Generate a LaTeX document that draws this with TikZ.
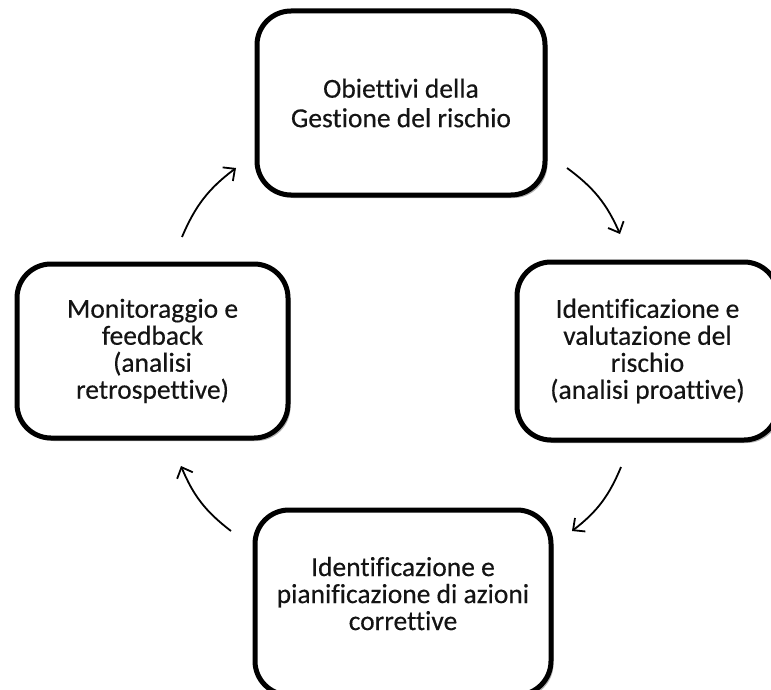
\documentclass[tikz,border=0pt]{standalone}
\usepackage{fontspec}
\setmainfont{Carlito}[Ligatures=NoCommon, FakeBold=0.35]
\usetikzlibrary{arrows.meta,shadows}
\begin{document}
\begin{tikzpicture}[x=1pt,y=1pt,
  stage/.style={draw=black, line width=5pt, rounded corners=34pt, fill=white,
    align=center, text=black!92, inner sep=0pt,
    font=\fontsize{27.5}{27}\selectfont,
    drop shadow={shadow xshift=2.5pt, shadow yshift=-3pt, opacity=0.3, fill=black}},
  flow/.style={line width=1.8pt, -{Straight Barb[length=9pt,width=17pt,line width=1.8pt]}, bend left=15}]
  \useasboundingbox (0,0) rectangle (771,-690);
  \fill[white] (0,0) rectangle (771,-690);

  % the four stages of the cycle
  \node[stage, minimum width=288pt, minimum height=184pt, font=\fontsize{27.5}{29.5}\selectfont]
    (obj) at (401,-103) {Obiettivi della\\Gestione del rischio};
  \node[stage, minimum width=261pt, minimum height=178pt]
    (ident) at (647.5,-351) {Identificazione e\\valutazione del\\rischio\\(analisi proattive)};
  \node[stage, minimum width=296pt, minimum height=185pt]
    (plan) at (403,-602.5) {Identificazione e\\pianificazione di azioni\\correttive\\[-9pt]\mbox{}};
  \node[stage, minimum width=271pt, minimum height=174pt]
    (mon) at (152.5,-351) {Monitoraggio e\\feedback\\(analisi\\retrospettive)};

  % end points of the curved arrows between the stages
  \coordinate (a1s) at (567,-168);
  \coordinate (a1e) at (620,-234);
  \coordinate (a2s) at (621,-467);
  \coordinate (a2e) at (572,-531);
  \coordinate (a3s) at (231,-531);
  \coordinate (a3e) at (181,-466);
  \coordinate (a4s) at (182,-237);
  \coordinate (a4e) at (236,-168);

  \draw[flow] (a1s) to (a1e);
  \draw[flow] (a2s) to (a2e);
  \draw[flow] (a3s) to (a3e);
  \draw[flow] (a4s) to (a4e);
\end{tikzpicture}
\end{document}
